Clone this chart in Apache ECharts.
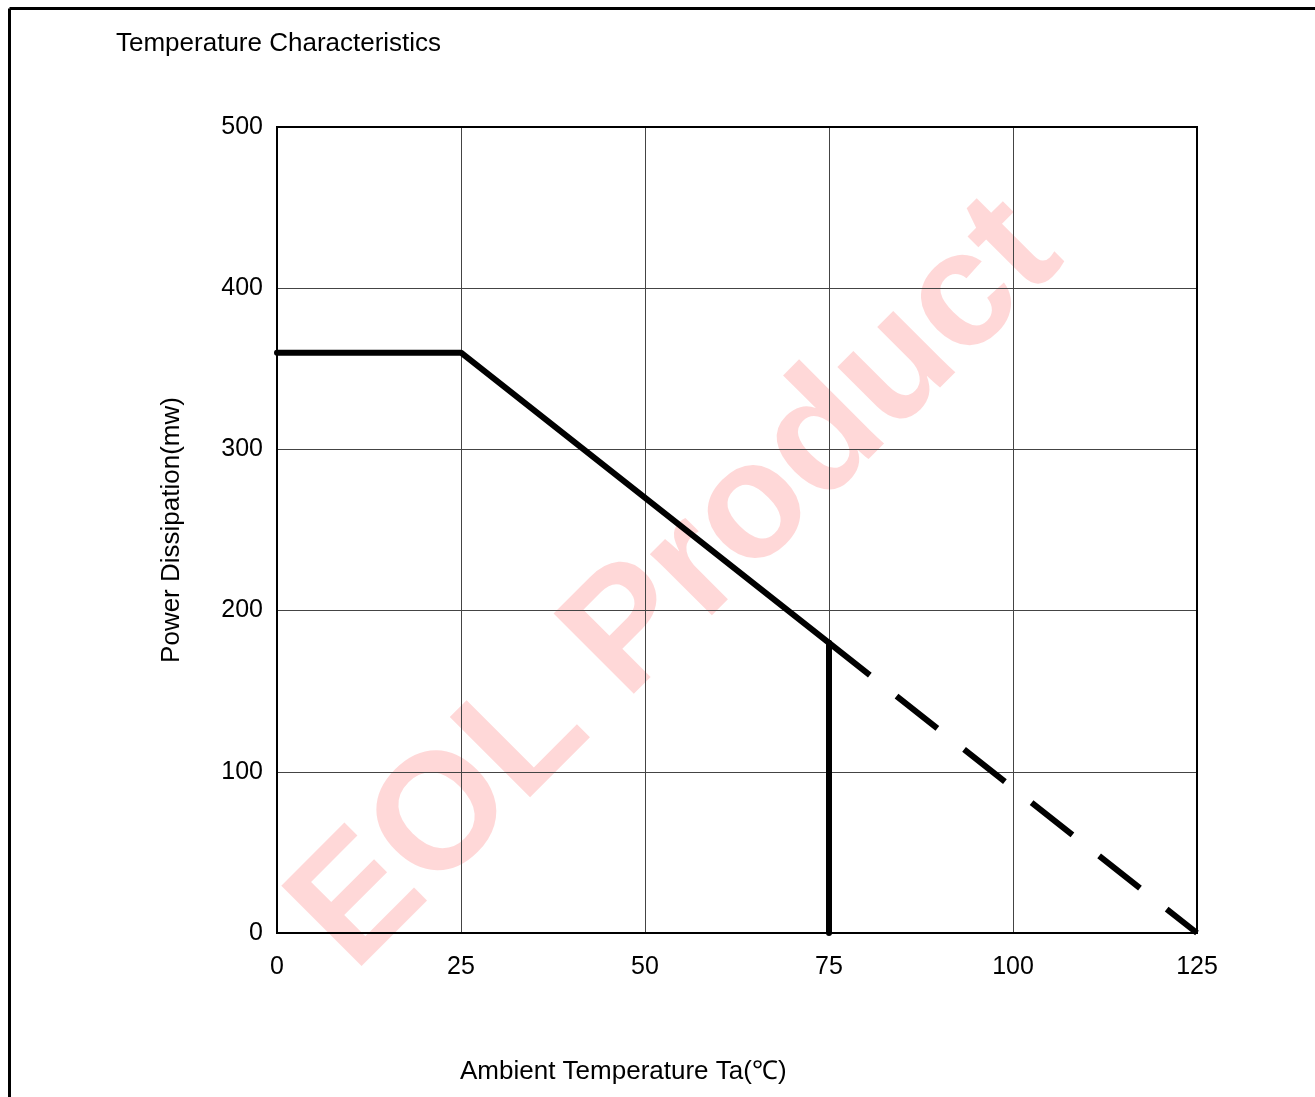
<!DOCTYPE html>
<html>
<head>
<meta charset="utf-8">
<script src="https://cdn.jsdelivr.net/npm/echarts@6/dist/echarts.min.js"></script>
<style>
html,body{margin:0;padding:0;background:#fff;}
#chart{width:1315px;height:1097px;}
</style>
</head>
<body>
<div id="chart"></div>
<script>
const xTicks = [0, 25, 50, 75, 100, 125];
const yTicks = [0, 100, 200, 300, 400, 500];
const ratedTemp = [0, 25, 75];
const ratedPower = [360, 360, 180];
const cutoffTemp = [75, 75];
const cutoffPower = [180, 0];
const extendTemp = [75, 125];
const extendPower = [180, 0];

const pair = (xs, ys) => xs.map((x, i) => [x, ys[i]]);
const font = 'Arial, "Liberation Sans", sans-serif';

const chart = echarts.init(document.getElementById('chart'));
chart.setOption({
  animation: false,
  backgroundColor: '#fff',
  title: {
    text: 'Temperature Characteristics',
    left: 111, top: 26,
    textStyle: {fontFamily: font, fontSize: 26, fontWeight: 'normal', color: '#000'}
  },
  grid: {
    left: 277, right: 118, top: 127, bottom: 164,
    show: true, borderColor: '#000', borderWidth: 2, backgroundColor: 'transparent', z: 1
  },
  xAxis: {
    type: 'value', min: 0, max: 125, interval: 25,
    axisLine: {show: true, lineStyle: {color: '#000', width: 2}},
    axisTick: {show: false},
    axisLabel: {fontFamily: font, fontSize: 25, color: '#000', margin: 22,
      formatter: v => xTicks.includes(v) ? String(v) : ''},
    splitLine: {show: true, lineStyle: {color: '#444', width: 1}}
  },
  yAxis: {
    type: 'value', min: 0, max: 500, interval: 100,
    name: 'Power Dissipation(mw)', nameLocation: 'middle', nameGap: 92, nameRotate: 90,
    nameTextStyle: {fontFamily: font, fontSize: 26, color: '#000'},
    axisLine: {show: true, lineStyle: {color: '#000', width: 2}},
    axisTick: {show: false},
    axisLabel: {fontFamily: font, fontSize: 25, color: '#000', margin: 14,
      formatter: v => yTicks.includes(v) ? String(v) : ''},
    splitLine: {show: true, lineStyle: {color: '#444', width: 1}}
  },
  graphic: [
    {type: 'text', z: -10, x: 678, y: 585, rotation: Math.PI / 4, silent: true,
      style: {text: 'EOL Product', x: 0, y: 0, align: 'center', verticalAlign: 'middle',
        font: 'bold 165px Arial, "Liberation Sans", sans-serif', fill: 'rgba(255,40,40,0.18)'}},
    {type: 'text', left: 460, top: 1059,
      style: {text: 'Ambient Temperature Ta(℃)', font: '26px Arial, "Liberation Sans", sans-serif', fill: '#000'}},
    {type: 'line', shape: {x1: 9.5, y1: 8.5, x2: 1315, y2: 8.5}, style: {stroke: '#000', lineWidth: 3}},
    {type: 'line', shape: {x1: 9.5, y1: 8.5, x2: 9.5, y2: 1097}, style: {stroke: '#000', lineWidth: 3}}
  ],
  series: [
    {type: 'line', data: pair(ratedTemp, ratedPower), symbol: 'none', z: 5,
      lineStyle: {color: '#000', width: 6, cap: 'round', join: 'round'}},
    {type: 'line', data: pair(cutoffTemp, cutoffPower), symbol: 'none', z: 5,
      lineStyle: {color: '#000', width: 6, cap: 'round'}},
    {type: 'line', data: pair(extendTemp, extendPower), symbol: 'none', z: 5,
      lineStyle: {color: '#000', width: 6, type: [52, 34], cap: 'butt'}}
  ]
});
</script>
</body>
</html>
